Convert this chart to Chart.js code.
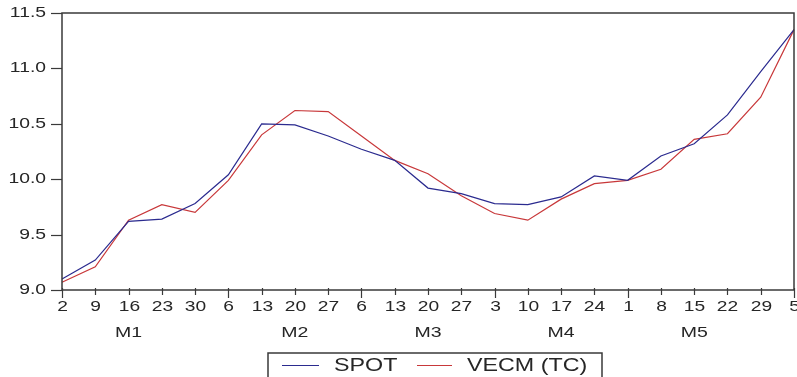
<!DOCTYPE html>
<html>
<head>
<meta charset="utf-8">
<script src="https://cdn.jsdelivr.net/npm/chart.js@4.4.0/dist/chart.umd.min.js"></script>
<style>
  html, body { margin: 0; padding: 0; background: #ffffff; }
  #wrap { width: 797px; height: 377px; }
</style>
</head>
<body>
<div id="wrap"><canvas id="c" width="797" height="377"></canvas></div>
<script>
// Weekly observations: day of month for each week
const days = ['2','9','16','23','30','6','13','20','27','6','13','20','27','3','10','17','24','1','8','15','22','29','5'];
// Month group labels (one per month that is labelled on the axis)
const months = ['M1','M2','M3','M4','M5'];
// Series
const spot = [9.10, 9.27, 9.62, 9.64, 9.78, 10.04, 10.50, 10.49, 10.39, 10.27, 10.17, 9.92, 9.87, 9.78, 9.77, 9.84, 10.03, 9.99, 10.21, 10.32, 10.58, 10.97, 11.35];
const vecm = [9.07, 9.21, 9.63, 9.77, 9.70, 9.99, 10.40, 10.62, 10.61, 10.39, 10.17, 10.05, 9.85, 9.69, 9.63, 9.82, 9.96, 9.99, 10.09, 10.36, 10.41, 10.74, 11.35];
const seriesNames = ['SPOT', 'VECM (TC)'];
const yTickLabels = ['9.0', '9.5', '10.0', '10.5', '11.0', '11.5'];

const FONT = '"Liberation Sans", Arial, sans-serif';
const TEXT = '#262626';
const FRAME = '#3a3a3a';
const COLORS = ['#2b2b8f', '#c8383a'];

// Month groups: a new month starts whenever the day number falls back
function monthGroups() {
  const groups = [];
  let start = 0;
  for (let i = 1; i <= days.length; i++) {
    if (i === days.length || Number(days[i]) < Number(days[i - 1])) {
      groups.push({ start, end: i - 1 });
      start = i;
    }
  }
  return groups;
}

function wideText(ctx, text, x, y, sx, align) {
  ctx.save();
  ctx.translate(x, y);
  ctx.scale(sx, 1);
  ctx.textAlign = align;
  ctx.textBaseline = 'middle';
  ctx.fillText(text, 0, 0);
  ctx.restore();
}

const decorPlugin = {
  id: 'decor',
  afterDraw(chart) {
    const ctx = chart.ctx;
    const a = chart.chartArea;
    const xs = chart.scales.x;
    const ys = chart.scales.y;
    const groups = monthGroups();
    const starts = new Set(groups.map(g => g.start));

    ctx.save();
    // plot frame
    ctx.strokeStyle = FRAME;
    ctx.lineWidth = 1.5;
    ctx.strokeRect(a.left, a.top, a.right - a.left, a.bottom - a.top);

    // y ticks and labels
    ctx.lineWidth = 1.2;
    ctx.fillStyle = TEXT;
    ctx.font = '14px ' + FONT;
    yTickLabels.forEach(lbl => {
      const y = Math.round(ys.getPixelForValue(Number(lbl))) + 0.5;
      ctx.beginPath();
      ctx.moveTo(a.left - 11, y);
      ctx.lineTo(a.left, y);
      ctx.stroke();
      wideText(ctx, lbl, a.left - 16, y, 1.38, 'right');
    });

    // x ticks and labels
    ctx.font = '15px ' + FONT;
    days.forEach((d, i) => {
      const x = Math.round(xs.getPixelForValue(i)) + 0.5;
      const major = starts.has(i) || i === days.length - 1;
      ctx.beginPath();
      ctx.moveTo(x, a.bottom - 2);
      ctx.lineTo(x, a.bottom + (major ? 8 : 5));
      ctx.stroke();
      wideText(ctx, d, x, a.bottom + 17, 1.28, 'center');
    });

    // month labels, centred on their group of weeks
    groups.forEach((g, k) => {
      if (k >= months.length) return;
      const c = Math.ceil((g.start + g.end) / 2);
      wideText(ctx, months[k], xs.getPixelForValue(c), a.bottom + 43, 1.3, 'center');
    });

    // legend box
    const lx = 268, ly = 353, lw = 334;
    ctx.strokeStyle = FRAME;
    ctx.lineWidth = 1.5;
    ctx.beginPath();
    ctx.moveTo(lx, chart.height + 2);
    ctx.lineTo(lx, ly);
    ctx.lineTo(lx + lw, ly);
    ctx.lineTo(lx + lw, chart.height + 2);
    ctx.stroke();
    ctx.font = '17.5px ' + FONT;
    const entries = [
      { x0: 282, x1: 319, tx: 334 },
      { x0: 417, x1: 452, tx: 467 }
    ];
    entries.forEach((e, k) => {
      ctx.strokeStyle = COLORS[k];
      ctx.lineWidth = 1.2;
      ctx.beginPath();
      ctx.moveTo(e.x0, 365.5);
      ctx.lineTo(e.x1, 365.5);
      ctx.stroke();
      ctx.fillStyle = TEXT;
      wideText(ctx, seriesNames[k], e.tx, 366, 1.33, 'left');
    });
    ctx.restore();
  }
};

new Chart(document.getElementById('c'), {
  type: 'line',
  data: {
    labels: days,
    datasets: [
      { label: seriesNames[0], data: spot, borderColor: COLORS[0], borderWidth: 1.2, pointRadius: 0, tension: 0, fill: false },
      { label: seriesNames[1], data: vecm, borderColor: COLORS[1], borderWidth: 1.2, pointRadius: 0, tension: 0, fill: false }
    ]
  },
  options: {
    responsive: false,
    animation: false,
    events: [],
    layout: { padding: { top: 13, right: 3, left: 0, bottom: 0 } },
    plugins: { legend: { display: false }, tooltip: { enabled: false } },
    scales: {
      x: {
        type: 'category',
        offset: false,
        grid: { display: false },
        border: { display: false },
        ticks: { display: false },
        afterFit(s) { s.height = 87; }
      },
      y: {
        min: 9.0,
        max: 11.5,
        grid: { display: false },
        border: { display: false },
        ticks: { display: false, stepSize: 0.5 },
        afterFit(s) { s.width = 62; }
      }
    }
  },
  plugins: [decorPlugin]
});
</script>
</body>
</html>
